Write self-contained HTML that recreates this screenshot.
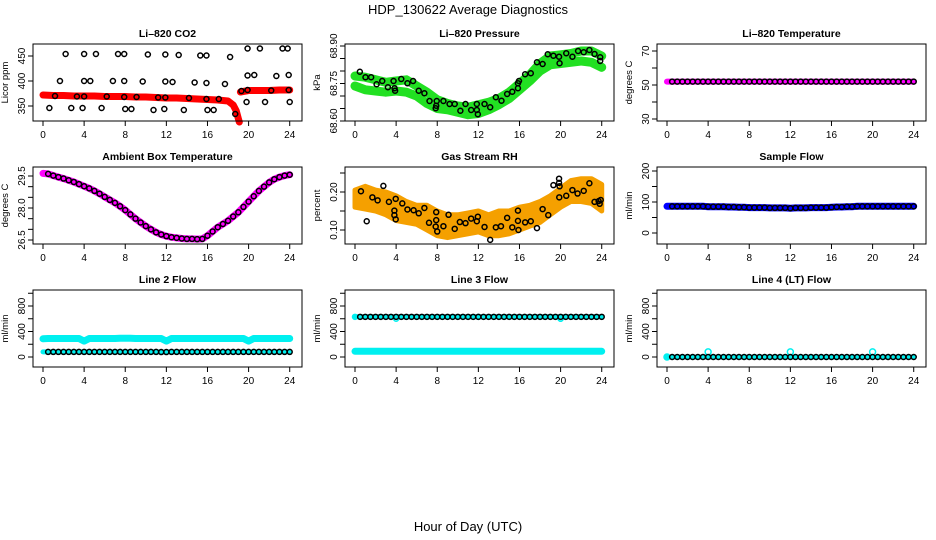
<!DOCTYPE html>
<html><head><meta charset="utf-8"><style>
html,body{margin:0;padding:0;background:#fff}
svg{display:block}
text{font-family:"Liberation Sans",sans-serif}
</style></head><body>
<svg id="c" width="936" height="540" viewBox="0 0 936 540" xmlns="http://www.w3.org/2000/svg">
<rect width="936" height="540" fill="#fff"/>
<text x="468" y="14" text-anchor="middle" font-size="13">HDP_130622  Average Diagnostics</text>
<text x="468" y="531" text-anchor="middle" font-size="13">Hour of Day (UTC)</text>
</svg>
<script>
// ---- data ----
const xTicks=[0,4,8,12,16,20,24];
// CO2
const co2BandH=[0,1,2,3,4,5,6,7,8,9,10,11,12,13,14,15,16,17,18,18.5,18.8,19.0,19.1];
const co2BandV=[372,371,371,370,370,370,369,369,369,368,368,367,366,366,365,364,363,362,360,352,340,325,318];
const co2Band2H=[19.2,20,21,22,23,24];
const co2Band2V=[378,381,381,381,382,382];
const co2PtH=[0.62,2.2,1.17,1.65,4.0,4.0,4.0,3.3,3.85,4.6,5.15,2.75,5.7,6.2,6.8,7.3,7.9,7.9,7.9,8.0,8.6,9.1,9.7,10.2,10.75,11.2,11.9,11.9,11.9,11.8,12.6,13.2,13.7,14.2,14.75,15.3,15.9,15.9,15.9,16.0,16.6,17.1,17.7,18.2,18.7,19.3,19.9,19.9,19.9,19.8,20.55,21.1,21.6,22.2,22.7,23.3,23.8,23.9,23.9,24.0];
const co2PtV=[346,454,370,400,454,400,369,369,346,400,454,346,346,369,400,454,454,400,368,344,344,368,399,453,342,367,453,399,367,344,398,452,342,366,397,451,451,396,364,342,342,364,394,448,334,380,382,465,411,358,412,465,358,381,410,465,465,412,382,358];
// Pressure
const presUpper=[68.78,68.775,68.765,68.755,68.76,68.765,68.74,68.715,68.685,68.67,68.66,68.655,68.665,68.675,68.69,68.715,68.75,68.785,68.83,68.86,68.865,68.87,68.88,68.88,68.86];
const presLower=[68.74,68.725,68.72,68.715,68.72,68.715,68.70,68.67,68.65,68.645,68.635,68.625,68.63,68.645,68.665,68.69,68.725,68.76,68.80,68.825,68.83,68.835,68.84,68.835,68.815];
const presPtH=[0.47,1.02,1.57,2.1,2.65,3.2,3.75,3.85,3.9,4.5,5.1,5.65,6.2,6.75,7.25,7.95,7.9,7.85,8.6,9.2,9.7,10.25,10.75,11.3,11.85,11.85,11.95,12.6,13.15,13.7,14.25,14.8,15.3,15.85,15.85,15.95,16.55,17.1,17.7,18.25,18.75,19.3,19.85,19.9,20.55,21.15,21.7,22.25,22.8,23.3,23.85,23.85];
const presPtV=[68.797,68.775,68.775,68.747,68.76,68.735,68.76,68.731,68.721,68.768,68.751,68.76,68.721,68.711,68.68,68.68,68.661,68.651,68.68,68.668,68.668,68.641,68.668,68.644,68.668,68.644,68.627,68.668,68.655,68.695,68.681,68.708,68.717,68.731,68.751,68.76,68.787,68.791,68.835,68.828,68.867,68.861,68.857,68.831,68.871,68.857,68.88,68.875,68.884,68.868,68.855,68.84];
// Li-820 temperature (half-hourly)
const liTemp=[52,52,52,52,52,52,52,52,52,52,52,52,52,52,52,52,52,52,52,52,52,52,52,52,52,52,52,52,52,52,52,52,52,52,52,52,52,52,52,52,52,52,52,52,52,52,52,52,52];
// Ambient box temperature (half-hourly)
const ambTemp=[29.62,29.6,29.52,29.45,29.38,29.3,29.22,29.12,29.02,28.92,28.8,28.67,28.52,28.38,28.24,28.08,27.9,27.7,27.5,27.32,27.15,27.0,26.86,26.76,26.68,26.63,26.6,26.57,26.55,26.55,26.54,26.55,26.7,26.9,27.1,27.25,27.4,27.6,27.8,28.05,28.3,28.55,28.8,29.0,29.2,29.35,29.45,29.52,29.56];
// RH
const rhUpper=[0.205,0.215,0.205,0.20,0.19,0.175,0.165,0.165,0.15,0.14,0.14,0.145,0.15,0.14,0.15,0.15,0.16,0.165,0.175,0.19,0.21,0.23,0.235,0.235,0.22];
const rhLower=[0.16,0.155,0.15,0.14,0.125,0.12,0.115,0.10,0.085,0.08,0.085,0.09,0.095,0.085,0.085,0.09,0.10,0.11,0.12,0.14,0.16,0.175,0.175,0.17,0.15];
const rhPtH=[0.58,1.14,1.69,2.2,2.76,3.3,3.96,3.83,3.83,3.96,4.6,5.1,5.7,6.2,6.75,7.2,7.9,7.9,7.85,8.0,8.6,9.1,9.7,10.2,10.75,11.3,11.85,11.95,12.6,13.15,13.7,14.2,14.8,15.3,15.85,15.85,15.9,16.55,17.1,17.7,18.25,18.8,19.3,19.85,19.85,19.9,19.87,20.55,21.15,21.65,22.25,22.8,23.3,23.7,23.9,23.8];
const rhPtV=[0.202,0.123,0.186,0.178,0.216,0.174,0.182,0.151,0.139,0.128,0.170,0.154,0.152,0.144,0.158,0.119,0.147,0.126,0.109,0.096,0.110,0.140,0.103,0.121,0.118,0.130,0.123,0.135,0.108,0.074,0.107,0.110,0.132,0.107,0.151,0.124,0.100,0.120,0.123,0.105,0.155,0.139,0.218,0.235,0.224,0.215,0.186,0.190,0.205,0.196,0.203,0.223,0.174,0.176,0.179,0.169];
// Sample flow (half-hourly)
const sampleFlow=[86,86,86,86,86,86,86,86,85,85,85,85,84,84,83,83,82,82,82,82,81,81,81,81,80,81,81,81,82,82,82,82,83,84,84,85,85,86,86,86,86,86,86,86,86,86,86,86,86];
// Line flows (half-hourly)
const line2Black=[80,80,80,80,80,80,80,80,80,80,80,80,80,80,80,80,80,80,80,80,80,80,80,78,78,80,80,80,80,80,80,80,80,80,80,80,80,80,80,80,80,80,80,80,80,80,80,80,80];
const line2Cyan=[285,290,290,290,290,290,290,290,250,290,290,290,290,290,290,295,295,295,290,290,290,290,290,290,250,290,290,290,290,290,290,290,290,290,290,290,290,290,290,290,250,290,290,290,290,290,290,290,290];
const line3Black=[630,630,630,630,630,630,630,630,630,630,630,630,630,630,630,630,630,630,630,630,630,630,630,630,630,630,630,630,630,630,630,630,630,630,630,630,630,630,630,630,630,630,630,630,630,630,630,630,630];
const line3Cyan=[90,90,90,90,90,90,90,90,90,90,90,90,90,90,90,90,90,90,90,90,90,90,90,90,90,90,90,90,90,90,90,90,90,90,90,90,90,90,90,90,90,90,90,90,90,90,90,90,90];
const line3CyanHi=[630,600,630,600,600];
const line3CyanHiH=[0,4,12,20,20];
const line4Black=[0,0,0,0,0,0,0,0,0,0,0,0,0,0,0,0,0,0,0,0,0,0,0,0,0,0,0,0,0,0,0,0,0,0,0,0,0,0,0,0,0,0,0,0,0,0,0,0,0];
const line4SpikeH=[0,4,12,20];
const line4SpikeV=[0,80,80,80];

// ---- drawing ----
const svg=document.getElementById('c');
const NS='http://www.w3.org/2000/svg';
const HALF=[];for(let i=0;i<=48;i++)HALF.push(i*0.5);
const HOURS=[];for(let i=0;i<=24;i++)HOURS.push(i);
function mk(tag,attrs,parent){const e=document.createElementNS(NS,tag);for(const k in attrs)e.setAttribute(k,attrs[k]);(parent||svg).appendChild(e);return e;}
const ROWS=[44,167,290], BH=77;
function panel(c,r,name,title,ylab,v1,p1,v2,p2,ticks,labels){
  const x0=43+312*c, top=ROWS[r], bot=top+BH;
  const g=mk('g',{});
  
  
  const X=h=>x0+h*10.28;
  const Y=v=>p1+(v-v1)*(p2-p1)/(v2-v1);
  const L=x0-10,R=x0+259;
  const t=mk('text',{x:(L+R)/2,y:top-7,'text-anchor':'middle','font-size':10.5,'font-weight':'bold'},g);t.textContent=title;
  
  
  const yl=mk('text',{x:0,y:0,'text-anchor':'middle','font-size':9.5,transform:`translate(${L-25},${(top+bot)/2}) rotate(-90)`},g);yl.textContent=ylab;
  
  
  const ax=mk('g',{stroke:'#000','stroke-width':1},g);
  
  
  mk('line',{x1:X(0),x2:X(24),y1:bot,y2:bot},ax);
  xTicks.forEach(h=>{mk('line',{x1:X(h),x2:X(h),y1:bot,y2:bot+5},ax);
    const tx=mk('text',{x:X(h),y:bot+17,'text-anchor':'middle','font-size':10,stroke:'none'},g);tx.textContent=h;
    
    });
  const ay=mk('g',{stroke:'#000','stroke-width':1},g);
  
  
  mk('line',{x1:L,x2:L,y1:Y(ticks[0]),y2:Y(ticks[ticks.length-1])},ay);
  ticks.forEach(v=>mk('line',{x1:L-5,x2:L,y1:Y(v),y2:Y(v)},ay));
  labels.forEach(v=>{const tx=mk('text',{x:0,y:0,'text-anchor':'middle','font-size':10,transform:`translate(${L-8},${Y(v)}) rotate(-90)`},g);tx.textContent=v;
    
    });
  const marks=mk('g',{},g);
  
  
  const box=mk('rect',{x:L,y:top,width:R-L,height:BH,fill:'none',stroke:'#000','stroke-width':1},g);
  
  
  return {X,Y,g:marks};
}
function band(p,hs,vs,color,w,name){
  const pts=hs.map((h,i)=>p.X(h).toFixed(1)+','+p.Y(vs[i]).toFixed(1)).join(' ');
  const e=mk('polyline',{points:pts,fill:'none',stroke:color,'stroke-width':w,'stroke-linejoin':'round','stroke-linecap':'round'},p.g);
  
  
}
function area(p,hs,up,lo,fill,name){
  const a=hs.map((h,i)=>p.X(h)+','+p.Y(up[i]));
  const b=hs.map((h,i)=>p.X(h)+','+p.Y(lo[i])).reverse();
  const e=mk('polygon',{points:a.concat(b).join(' '),fill:fill,stroke:fill,'stroke-width':5,'stroke-linejoin':'round'},p.g);
  
  
}
function pts(p,hs,vs,color,name,r){
  const g=mk('g',{fill:'none',stroke:color,'stroke-width':1.5},p.g);
  
  
  hs.forEach((h,i)=>{const c=mk('circle',{cx:p.X(h),cy:p.Y(vs[i]),r:r||2.5},g);
    
    });
}
// 1 CO2
let p=panel(0,0,'panel-co2','Li\u2013820 CO2','Licor ppm',350,106,450,56,[350,400,450],[350,400,450]);
band(p,co2BandH,co2BandV,'#f00',7,'co2-band');band(p,co2Band2H,co2Band2V,'#f00',7,'co2-band-2');
pts(p,co2PtH,co2PtV,'#000','co2-points');
// 2 Pressure
p=panel(1,0,'panel-pressure','Li\u2013820 Pressure','kPa',68.60,121,68.90,46,[68.60,68.65,68.70,68.75,68.80,68.85,68.90],['68.60','68.75','68.90']);
band(p,HOURS,presUpper,'#22e022',9,'pressure-band-upper');band(p,HOURS,presLower,'#22e022',9,'pressure-band-lower');
pts(p,presPtH,presPtV,'#000','pressure-points');
// 3 Li temp
p=panel(2,0,'panel-li-temp','Li\u2013820 Temperature','degrees C',30,119,70,51,[30,40,50,60,70],[30,50,70]);
band(p,HALF,liTemp,'#f0f',6,'li-temp-band');
pts(p,HALF.slice(1),liTemp.slice(1),'#000','li-temp-points');
// 4 Ambient
p=panel(0,1,'panel-ambient','Ambient Box Temperature','degrees C',26.5,240,29.5,176,[26.5,27,27.5,28,28.5,29,29.5],['26.5','28.0','29.5']);
band(p,HALF,ambTemp,'#f0f',7,'ambient-band');
pts(p,HALF.slice(1),ambTemp.slice(1),'#000','ambient-points');
// 5 RH
p=panel(1,1,'panel-rh','Gas Stream RH','percent',0.10,230,0.20,192,[0.10,0.15,0.20,0.25],['0.10','0.20']);
area(p,HOURS,rhUpper,rhLower,'#f5a000','rh-band');
pts(p,rhPtH,rhPtV,'#000','rh-points');
// 6 Sample flow
p=panel(2,1,'panel-sample-flow','Sample Flow','ml/min',0,233,200,171,[0,50,100,150,200],[0,100,200]);
band(p,HALF,sampleFlow,'#00f',7,'sample-flow-band');
pts(p,HALF.slice(1),sampleFlow.slice(1),'#000','sample-flow-points');
// 7 Line 2
p=panel(0,2,'panel-line2','Line 2 Flow','ml/min',0,357,800,306,[0,200,400,600,800,1000],[0,400,800]);
band(p,HALF,line2Cyan,'#00f0f0',7,'line2-cyan-band');
pts(p,HALF,line2Cyan,'#00f0f0','line2-cyan-points');
band(p,HALF,line2Black,'#00f0f0',5,'line2-cyan-low');
pts(p,HALF.slice(1),line2Black.slice(1),'#000','line2-points');
// 8 Line 3
p=panel(1,2,'panel-line3','Line 3 Flow','ml/min',0,357,800,306,[0,200,400,600,800,1000],[0,400,800]);
band(p,HALF,line3Cyan,'#00f0f0',7,'line3-cyan-band');
pts(p,line3CyanHiH,line3CyanHi,'#00f0f0','line3-cyan-high');
band(p,HALF,line3Black,'#00f0f0',5,'line3-high-band');
pts(p,HALF.slice(1),line3Black.slice(1),'#000','line3-points');
// 9 Line 4
p=panel(2,2,'panel-line4','Line 4 (LT) Flow','ml/min',0,357,800,306,[0,200,400,600,800,1000],[0,400,800]);
band(p,HALF,line4Black,'#00f0f0',5,'line4-cyan-band');
pts(p,line4SpikeH,line4SpikeV,'#00f0f0','line4-cyan-points',3);
pts(p,HALF.slice(1),line4Black.slice(1),'#000','line4-points');
</script>
</body></html>
